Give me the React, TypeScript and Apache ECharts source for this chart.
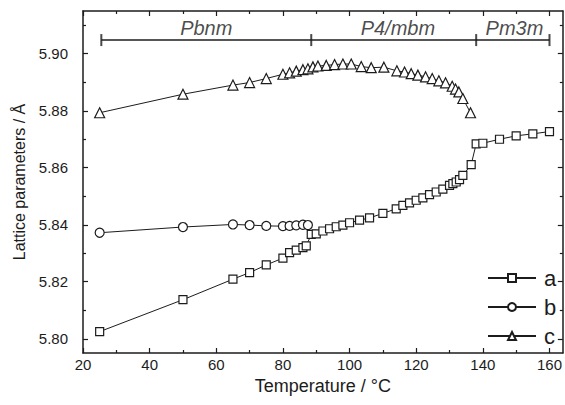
import React, { useEffect, useRef } from 'react';
import * as echarts from 'echarts';

// ---- data ----
const tA = [25, 50, 65, 70, 75, 80, 82, 84, 86, 87, 88.5, 90, 92, 94, 96, 98, 100, 103, 106, 110, 114, 116, 118, 120, 122, 124, 126, 128, 130, 131, 132, 133, 134, 136.5, 138, 140, 145, 150, 155, 160];
const aVals = [5.8025, 5.8137, 5.8209, 5.8232, 5.8259, 5.8283, 5.8302, 5.8311, 5.832, 5.8326, 5.8366, 5.8368, 5.8378, 5.8386, 5.8393, 5.8399, 5.8407, 5.8416, 5.8424, 5.844, 5.8456, 5.8468, 5.8477, 5.8486, 5.8494, 5.8506, 5.8515, 5.8525, 5.8538, 5.8544, 5.855, 5.8558, 5.8573, 5.8611, 5.8684, 5.8686, 5.87, 5.8712, 5.8719, 5.8727];

const tB = [25, 50, 65, 70, 75, 80, 82, 84, 86, 87.5];
const bVals = [5.8372, 5.8392, 5.8401, 5.8399, 5.8396, 5.8395, 5.8396, 5.8398, 5.84, 5.8399];

const tC = [25, 50, 65, 70, 75, 80, 82, 84, 86, 87.5, 89, 90.5, 93, 95.5, 98, 100.5, 103.5, 106.5, 110.3, 114.2, 116.5, 118.5, 120.5, 122.8, 124.8, 126.8, 128.8, 130.8, 131.8, 132.8, 134, 136.3];
const cVals = [5.8793, 5.8858, 5.889, 5.8899, 5.8913, 5.8928, 5.8933, 5.8939, 5.8944, 5.8947, 5.8954, 5.8957, 5.8959, 5.8962, 5.8964, 5.8964, 5.8955, 5.8951, 5.8953, 5.894, 5.8936, 5.893, 5.8925, 5.8919, 5.8913, 5.8905, 5.8898, 5.8886, 5.8876, 5.8866, 5.8843, 5.8793];

const xMajor = [20, 40, 60, 80, 100, 120, 140, 160];
const xMinor = [30, 50, 70, 90, 110, 130, 150];
const yMajor = [5.8, 5.82, 5.84, 5.86, 5.88, 5.9];
const yMinor = [5.81, 5.83, 5.85, 5.87, 5.89, 5.91];

const phaseBounds = [25.5, 88.5, 138, 160];
const phaseNames = ['Pbnm', 'P4/mbm', 'Pm3m'];
const phaseLabelX = [57, 114.5, 149.5];
const phaseBarY = 5.9048;
const phaseLabelY = 5.9092;

const X_MIN = 20, X_MAX = 164, Y_MIN = 5.795, Y_MAX = 5.915;
const FONT = '"Liberation Sans", Arial, Helvetica, sans-serif';
const INK = '#1c1c1c';

function xAxis(position: string, ticks: number[], len: number, line: boolean, labels: boolean, name?: string) {
  return {
    type: 'value', position, min: X_MIN, max: X_MAX,
    name: name || '', nameLocation: 'middle', nameGap: 20,
    nameTextStyle: { fontFamily: FONT, fontSize: 18, color: INK },
    axisLine: { show: line, onZero: false, lineStyle: { color: INK, width: 1.5 } },
    axisTick: { show: true, inside: true, length: len, customValues: ticks, lineStyle: { color: INK, width: 1.2 } },
    axisLabel: labels
      ? { show: true, customValues: ticks, margin: 4, fontFamily: FONT, fontSize: 15, color: INK }
      : { show: false },
    splitLine: { show: false },
  };
}

function yAxis(position: string, ticks: number[], len: number, line: boolean, labels: boolean, name?: string) {
  return {
    type: 'value', position, min: Y_MIN, max: Y_MAX,
    name: name || '', nameLocation: 'middle', nameGap: 54,
    nameTextStyle: { fontFamily: FONT, fontSize: 16, color: INK },
    axisLine: { show: line, onZero: false, lineStyle: { color: INK, width: 1.5 } },
    axisTick: { show: true, inside: true, length: len, customValues: ticks, lineStyle: { color: INK, width: 1.2 } },
    axisLabel: labels
      ? { show: true, customValues: ticks, margin: 15, fontFamily: FONT, fontSize: 15, color: INK, formatter: (v: number) => v.toFixed(2) }
      : { show: false },
    splitLine: { show: false },
  };
}

function pairs(xs: number[], ys: number[]) {
  return xs.map((x, i) => [x, ys[i]]);
}

function dataSeries(name: string, symbol: string, size: number, xs: number[], ys: number[]) {
  return {
    name, type: 'line', symbol, symbolSize: size, showAllSymbol: true,
    xAxisIndex: 0, yAxisIndex: 0,
    data: pairs(xs, ys),
    lineStyle: { color: INK, width: 1 },
    itemStyle: { color: '#ffffff', borderColor: INK, borderWidth: 1.2 },
    z: 3,
  };
}

export default function App() {
  const ref = useRef<HTMLDivElement>(null);
  useEffect(() => {
    if (!ref.current) return;
    const chart = echarts.init(ref.current, null, { renderer: 'svg' });
    chart.setOption({
      animation: false,
      backgroundColor: '#ffffff',
      grid: { left: 83, top: 11, width: 480, height: 342, containLabel: false },
      xAxis: [
        xAxis('bottom', xMajor, 5, true, true, 'Temperature / °C'),
        xAxis('top', xMajor, 5, true, false),
        xAxis('bottom', xMinor, 3, false, false),
        xAxis('top', xMinor, 3, false, false),
      ],
      yAxis: [
        yAxis('left', yMajor, 5, true, true, 'Lattice parameters / Å'),
        yAxis('right', yMajor, 5, true, false),
        yAxis('left', yMinor, 3, false, false),
        yAxis('right', yMinor, 3, false, false),
      ],
      legend: {
        data: ['a', 'b', 'c'],
        orient: 'vertical', left: 482, top: 262,
        itemWidth: 48, itemHeight: 10, itemGap: 7,
        textStyle: { fontFamily: FONT, fontSize: 22, color: INK, padding: [0, 0, 0, 3] },
      },
      series: [
        dataSeries('a', 'rect', 8, tA, aVals),
        dataSeries('b', 'circle', 9, tB, bVals),
        dataSeries('c', 'triangle', 10, tC, cVals),
        {
          name: 'phaseBar', type: 'line', symbol: 'none', silent: true,
          data: [[phaseBounds[0], phaseBarY], [phaseBounds[phaseBounds.length - 1], phaseBarY]],
          lineStyle: { color: INK, width: 1.6 },
        },
        {
          name: 'phaseCaps', type: 'scatter', symbol: 'rect', symbolSize: [2, 12], silent: true,
          data: phaseBounds.map((x) => [x, phaseBarY]),
          itemStyle: { color: INK },
        },
        {
          name: 'phaseLabels', type: 'scatter', symbolSize: 1, silent: true,
          data: phaseNames.map((n, i) => ({ name: n, value: [phaseLabelX[i], phaseLabelY] })),
          itemStyle: { color: 'rgba(0,0,0,0)' },
          label: {
            show: true, position: 'inside', formatter: (p: any) => p.name,
            fontFamily: FONT, fontSize: 20, fontStyle: 'italic', color: INK,
          },
        },
      ],
    });
    return () => chart.dispose();
  }, []);
  return <div ref={ref} style={{ position: 'fixed', left: 0, top: 0, width: 565, height: 405 }} />;
}
